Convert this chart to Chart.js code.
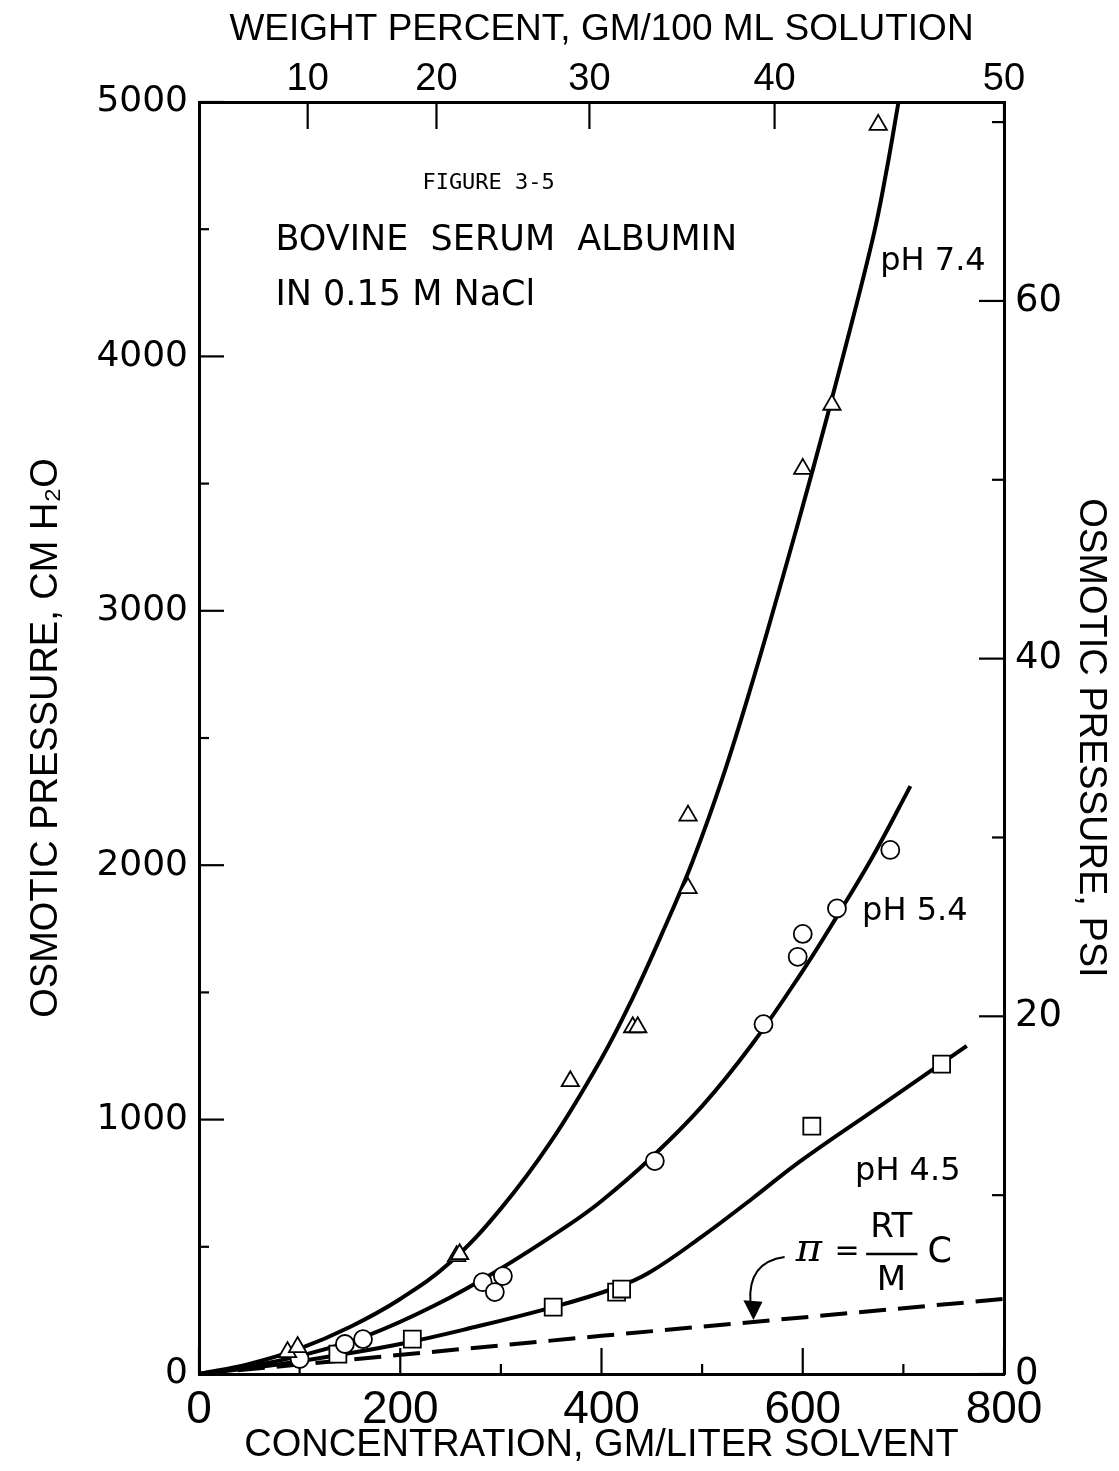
<!DOCTYPE html>
<html>
<head>
<meta charset="utf-8">
<title>Osmotic pressure of bovine serum albumin</title>
<script src="https://cdn.jsdelivr.net/npm/chart.js@4.4.1/dist/chart.umd.min.js"></script>
<style>
  html, body { margin: 0; padding: 0; background: #fff; }
</style>
</head>
<body>
<canvas id="osmoticChart" width="1119" height="1471"></canvas>
<script>
// measured points: concentration (gm/liter solvent) and osmotic pressure (cm H2O)
const concPH74 = [88, 98, 256, 259, 369, 431, 436, 486, 486, 600, 629, 675];
const pressPH74 = [86, 106, 463, 471, 1151, 1363, 1363, 1910, 2195, 3558, 3810, 4910];

const concPH54 = [100, 145, 163, 282, 294, 302, 453, 561, 595, 600, 634, 687];
const pressPH54 = [59, 118, 137, 361, 322, 385, 837, 1375, 1640, 1730, 1830, 2060];

const concPH45 = [138, 212, 352, 415, 420, 609, 738];
const pressPH45 = [78, 137, 263, 322, 334, 974, 1218];

// smooth curves drawn through the data
const curveConc74 = [0, 50, 100, 150, 200, 250, 300, 350, 400, 430, 460, 490, 520, 550, 580, 610, 640, 670, 683, 695];
const curvePress74 = [0, 40, 100, 185, 295, 440, 650, 915, 1240, 1470, 1730, 2010, 2340, 2720, 3130, 3555, 4000, 4470, 4725, 4996];

const curveConc54 = [0, 50, 100, 166, 233, 299, 366, 400, 448, 500, 550, 600, 634, 670, 707];
const curvePress54 = [0, 30, 71, 149, 267, 412, 582, 680, 845, 1053, 1298, 1585, 1799, 2037, 2311];

const curveConc45 = [0, 67, 133, 200, 266, 352, 415, 448, 498, 550, 597, 680, 763];
const curvePress45 = [0, 31, 71, 118, 177, 263, 340, 400, 535, 690, 835, 1062, 1290];

// ideal (van't Hoff) line, pi = RT/M C
const idealConc = [0, 400, 800];
const idealPress = [0, 150, 295];

// top axis: weight percent and the concentration where each tick sits
const weightTickLabels = ['10', '20', '30', '40', '50'];
const weightTickConc = [108, 236, 388, 572, 800];

const cmH2OPerPsi = 70.3;
const pressMax = 5000;

const toPoints = (xs, ys) => xs.map((x, i) => ({ x: x, y: ys[i] }));

const tickLengths = { x: [26, 10], x2: [27, 27], y: [25, 10], y2: [25, 12] };

const inwardTicks = {
  id: 'inwardTicks',
  beforeDatasetsDraw(chart) {
    const { ctx, chartArea } = chart;
    ctx.save();
    ctx.strokeStyle = '#000';
    ctx.lineWidth = 2.2;
    Object.keys(tickLengths).forEach(id => {
      const scale = chart.scales[id];
      const [major, minor] = tickLengths[id];
      scale.ticks.forEach(t => {
        const len = t.label === '' ? minor : major;
        const p = scale.getPixelForValue(t.value);
        ctx.beginPath();
        if (id === 'x') { ctx.moveTo(p, chartArea.bottom); ctx.lineTo(p, chartArea.bottom - len); }
        else if (id === 'x2') { ctx.moveTo(p, chartArea.top); ctx.lineTo(p, chartArea.top + len); }
        else if (id === 'y') { ctx.moveTo(chartArea.left, p); ctx.lineTo(chartArea.left + len, p); }
        else { ctx.moveTo(chartArea.right, p); ctx.lineTo(chartArea.right - len, p); }
        ctx.stroke();
      });
    });
    ctx.restore();
  }
};

// labels placed in data units (concentration, cm H2O)
const notes = [
  { text: 'FIGURE 3-5', at: [222, 4682], font: '22px "DejaVu Sans Mono"', align: 'left' },
  { text: 'BOVINE  SERUM  ALBUMIN', at: [76, 4455], font: '35px "DejaVu Sans"', align: 'left' },
  { text: 'IN 0.15 M NaCl', at: [76, 4238], font: '35px "DejaVu Sans"', align: 'left' },
  { text: 'pH 7.4', at: [677, 4371], font: '32px "DejaVu Sans"', align: 'left' },
  { text: 'pH 5.4', at: [659, 1816], font: '32px "DejaVu Sans"', align: 'left' },
  { text: 'pH 4.5', at: [652, 794], font: '32px "DejaVu Sans"', align: 'left' },
  { text: '\u03c0', at: [606, 484], font: 'italic 40px "DejaVu Serif"', align: 'center' },
  { text: '=', at: [644, 480], font: '30px "DejaVu Sans"', align: 'center' },
  { text: 'RT', at: [688, 574], font: '34px "DejaVu Sans"', align: 'center' },
  { text: 'M', at: [688, 366], font: '34px "DejaVu Sans"', align: 'center' },
  { text: 'C', at: [724, 476], font: '35px "DejaVu Sans"', align: 'left' }
];

const figureNotes = {
  id: 'figureNotes',
  afterDatasetsDraw(chart) {
    const { ctx } = chart;
    const xs = chart.scales.x, ys = chart.scales.y;
    const px = (c, p) => [xs.getPixelForValue(c), ys.getPixelForValue(p)];
    ctx.save();
    ctx.fillStyle = '#000';
    ctx.strokeStyle = '#000';
    ctx.textBaseline = 'middle';
    notes.forEach(n => {
      const [x, y] = px(n.at[0], n.at[1]);
      ctx.font = n.font;
      ctx.textAlign = n.align;
      ctx.fillText(n.text, x, y);
    });
    // fraction bar
    const [b1x, b1y] = px(663, 472);
    const [b2x] = px(714, 472);
    ctx.lineWidth = 2.5;
    ctx.beginPath();
    ctx.moveTo(b1x, b1y);
    ctx.lineTo(b2x, b1y);
    ctx.stroke();
    // curved arrow to the dashed line
    const [s0x, s0y] = px(582, 460);
    const [c0x, c0y] = px(545, 440);
    const [e0x, e0y] = px(548, 280);
    ctx.lineWidth = 2;
    ctx.beginPath();
    ctx.moveTo(s0x, s0y);
    ctx.quadraticCurveTo(c0x, c0y, e0x, e0y);
    ctx.stroke();
    const [tx, ty] = px(551, 212);
    const [l0x, l0y] = px(541, 290);
    const [r0x, r0y] = px(560, 284);
    ctx.beginPath();
    ctx.moveTo(l0x, l0y);
    ctx.lineTo(r0x, r0y);
    ctx.lineTo(tx, ty);
    ctx.closePath();
    ctx.fill();
    ctx.restore();
  }
};

const curveStyle = {
  showLine: true,
  pointRadius: 0,
  borderColor: '#000',
  borderWidth: 4,
  tension: 0.4,
  order: 2
};
const markerStyle = {
  showLine: false,
  backgroundColor: '#fff',
  borderColor: '#000',
  borderWidth: 1.8,
  order: 0
};

const ctx = document.getElementById('osmoticChart').getContext('2d');
new Chart(ctx, {
  type: 'scatter',
  data: {
    datasets: [
      { ...curveStyle, label: 'pH 7.4 curve', data: toPoints(curveConc74, curvePress74) },
      { ...curveStyle, label: 'pH 5.4 curve', data: toPoints(curveConc54, curvePress54) },
      { ...curveStyle, label: 'pH 4.5 curve', data: toPoints(curveConc45, curvePress45) },
      {
        ...curveStyle, label: 'RT/M C', data: toPoints(idealConc, idealPress),
        tension: 0, borderWidth: 4, borderDash: [27, 12]
      },
      { ...markerStyle, label: 'pH 7.4', data: toPoints(concPH74, pressPH74), pointStyle: 'triangle', pointRadius: 10 },
      { ...markerStyle, label: 'pH 5.4', data: toPoints(concPH54, pressPH54), pointStyle: 'circle', pointRadius: 9 },
      { ...markerStyle, label: 'pH 4.5', data: toPoints(concPH45, pressPH45), pointStyle: 'rect', pointRadius: 12 }
    ]
  },
  options: {
    responsive: false,
    devicePixelRatio: 1,
    animation: false,
    layout: { padding: 0 },
    plugins: {
      legend: { display: false },
      tooltip: { enabled: false }
    },
    scales: {
      x: {
        type: 'linear',
        position: 'bottom',
        min: 0,
        max: 800,
        afterFit: s => { s.height = 97; },
        grid: { display: true, drawOnChartArea: false, drawTicks: false },
        border: { display: true, width: 3, color: '#000' },
        ticks: {
          stepSize: 100,
          autoSkip: false,
          maxRotation: 0,
          padding: 9,
          color: '#000',
          font: { family: '"Liberation Sans", Arial, sans-serif', size: 46 },
          callback: v => (v % 200 === 0 ? v : '')
        },
        title: {
          display: true,
          text: 'CONCENTRATION, GM/LITER SOLVENT',
          color: '#000',
          padding: { top: 0, bottom: 3 },
          font: { family: '"Liberation Sans", Arial, sans-serif', size: 38 }
        }
      },
      x2: {
        type: 'linear',
        position: 'top',
        min: 0,
        max: 800,
        afterFit: s => { s.height = 102; },
        afterBuildTicks: s => { s.ticks = weightTickConc.map(v => ({ value: v })); },
        grid: { display: true, drawOnChartArea: false, drawTicks: false },
        border: { display: true, width: 3, color: '#000' },
        ticks: {
          autoSkip: false,
          maxRotation: 0,
          padding: 0,
          color: '#000',
          font: { family: '"Liberation Sans", Arial, sans-serif', size: 38 },
          callback: (v, i) => weightTickLabels[i]
        },
        title: {
          display: true,
          text: 'WEIGHT PERCENT, GM/100 ML SOLUTION',
          color: '#000',
          padding: { top: 8, bottom: 0 },
          font: { family: '"Liberation Sans", Arial, sans-serif', size: 37 }
        }
      },
      y: {
        type: 'linear',
        position: 'left',
        min: 0,
        max: pressMax,
        afterFit: s => { s.width = 199; },
        grid: { display: true, drawOnChartArea: false, drawTicks: false },
        border: { display: true, width: 3, color: '#000' },
        ticks: {
          stepSize: 500,
          autoSkip: false,
          padding: 11,
          color: '#000',
          font: { family: '"DejaVu Sans", sans-serif', size: 36 },
          callback: v => (v % 1000 === 0 ? v : '')
        },
        title: {
          display: true,
          text: 'OSMOTIC PRESSURE, CM H\u2082O',
          color: '#000',
          padding: { top: 24, bottom: 0 },
          font: { family: '"Liberation Sans", Arial, sans-serif', size: 38 }
        }
      },
      y2: {
        type: 'linear',
        position: 'right',
        min: 0,
        max: pressMax / cmH2OPerPsi,
        afterFit: s => { s.width = 115; },
        grid: { display: true, drawOnChartArea: false, drawTicks: false },
        border: { display: true, width: 3, color: '#000' },
        ticks: {
          stepSize: 10,
          includeBounds: false,
          autoSkip: false,
          padding: 11,
          color: '#000',
          font: { family: '"DejaVu Sans", sans-serif', size: 37 },
          callback: v => (v % 20 === 0 ? v : '')
        },
        title: {
          display: true,
          text: 'OSMOTIC PRESSURE, PSI',
          color: '#000',
          padding: { top: 6, bottom: 0 },
          font: { family: '"Liberation Sans", Arial, sans-serif', size: 38 }
        }
      }
    }
  },
  plugins: [inwardTicks, figureNotes]
});
</script>
</body>
</html>
